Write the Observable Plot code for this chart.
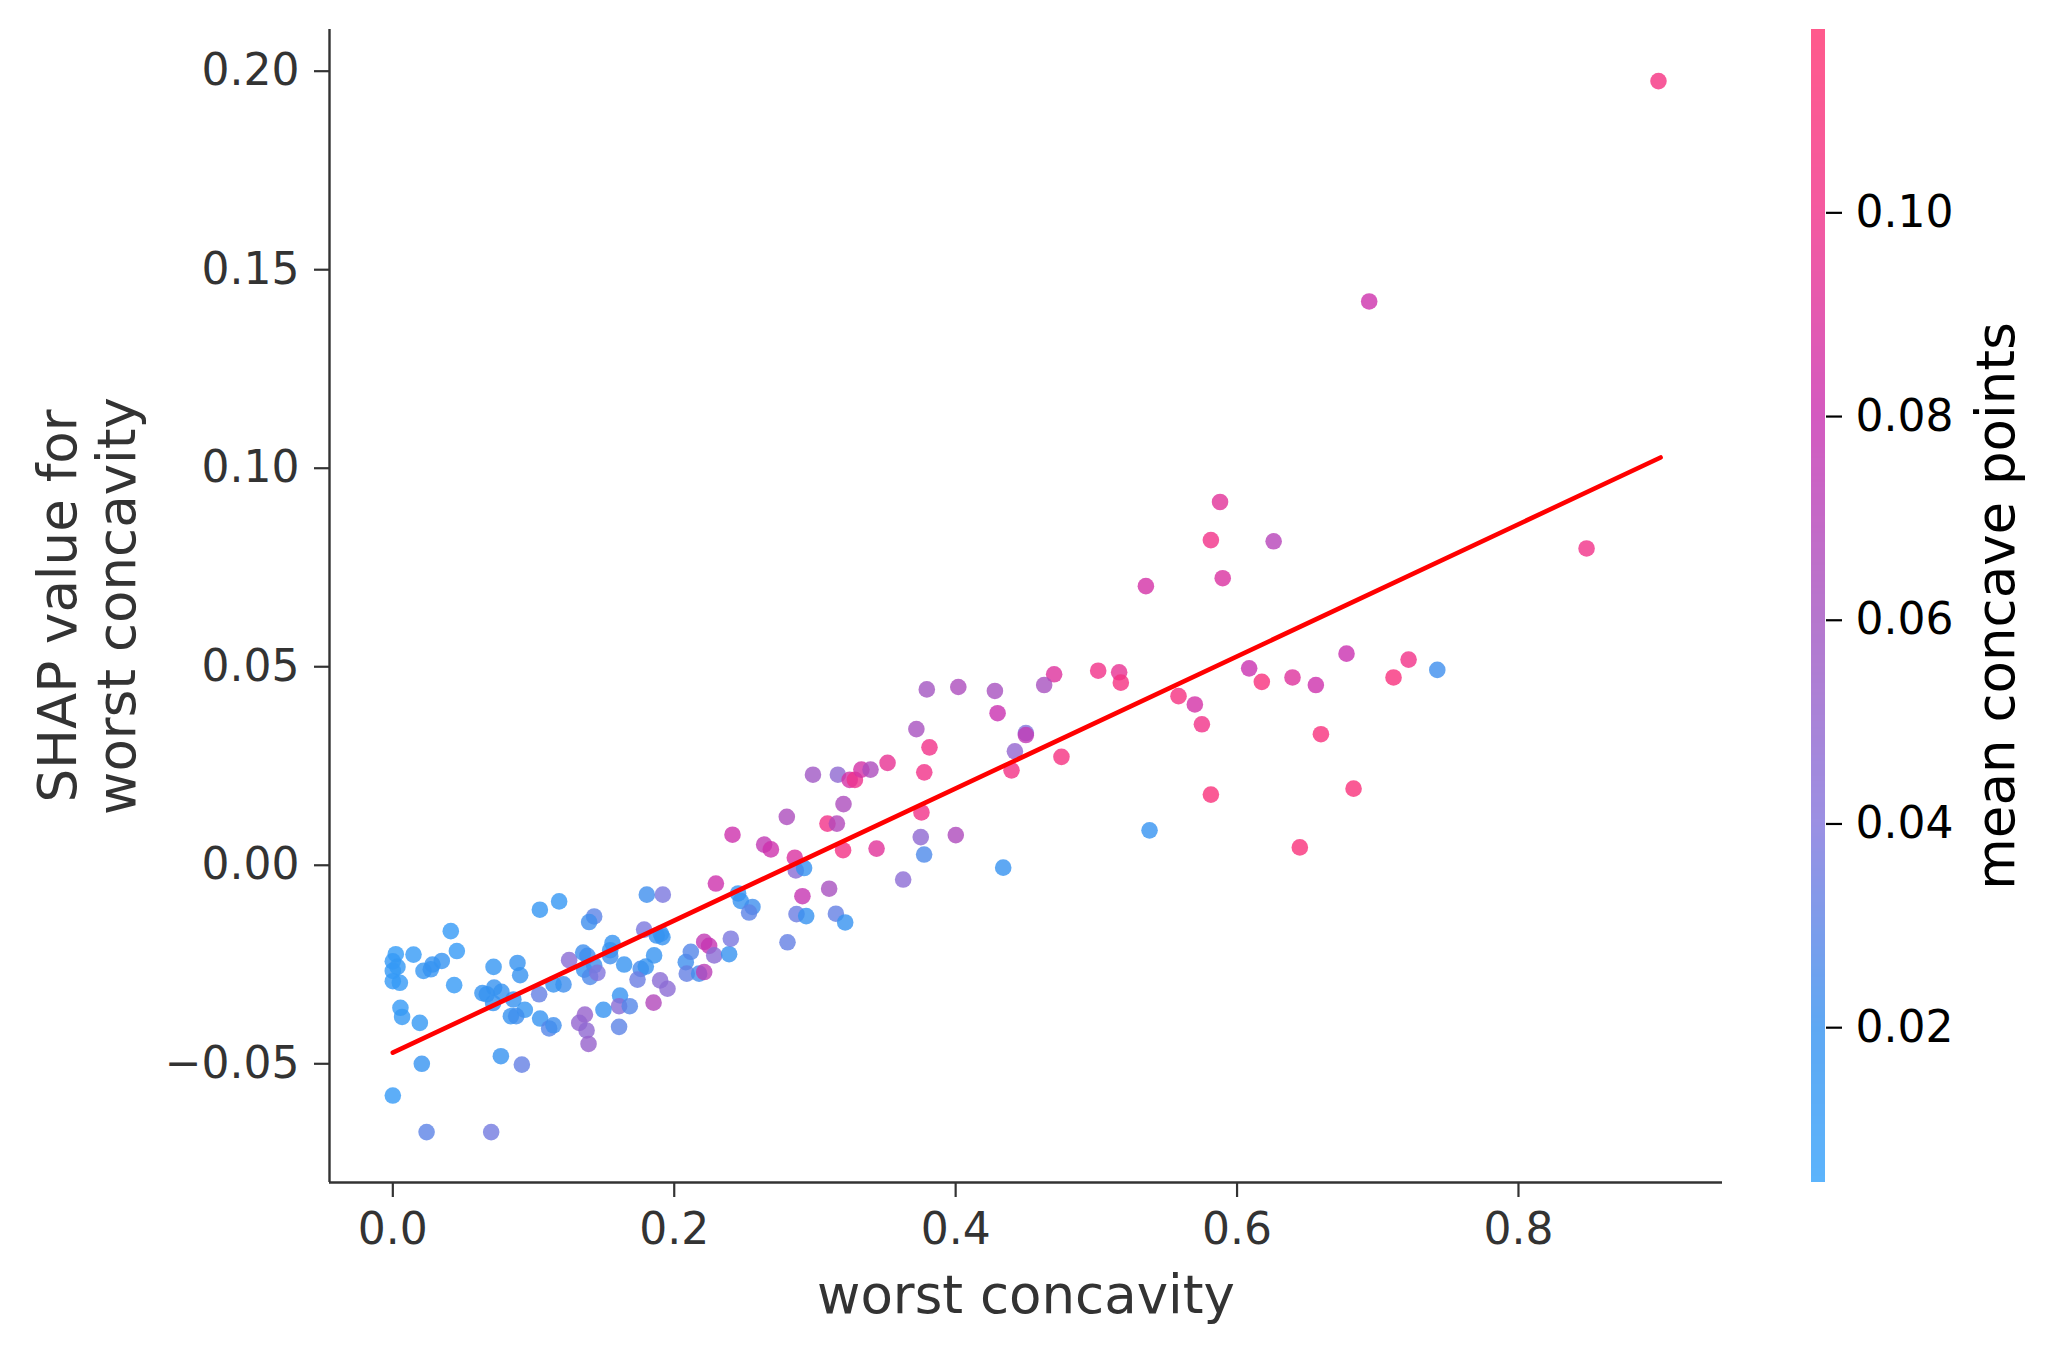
<!DOCTYPE html>
<html><head><meta charset="utf-8">
<script src="https://cdn.jsdelivr.net/npm/d3@7"></script>
<script src="https://cdn.jsdelivr.net/npm/@observablehq/plot@0.6"></script>
<style>
html,body{margin:0;padding:0;background:#fff;}
#wrap{position:relative;width:2055px;height:1357px;}
#wrap svg{position:absolute;left:0;top:0;}
</style></head><body><div id="wrap"></div>
<script>
// ---- data ----
const worstConcavity = [
0.2296,0.1805,0.1919,0.1182,0.1045,0.1431,0.1395,0.0412,0.0455,0.0021,
0.0147,0.0000,0.0033,0.0000,0.0000,0.0050,0.0218,0.0282,0.0270,0.0348,
0.0436,0.0716,0.0886,0.0905,0.0637,0.0720,0.0772,0.0713,0.0668,0.0857,
0.0938,0.0839,0.0877,0.1040,0.1047,0.1111,0.1142,0.1253,0.1353,0.1383,
0.1360,0.1431,0.1402,0.1454,0.1213,0.1142,0.1561,0.1545,0.1545,0.1644,
0.1786,0.1876,0.1916,0.1905,0.1857,0.1762,0.1798,0.1739,0.1615,0.1608,
0.1684,0.1497,0.1608,0.1365,0.1325,0.1377,0.1391,0.1853,0.1900,0.1952,
0.2082,0.2118,0.2089,0.2177,0.2213,0.2213,0.2248,0.2284,0.2390,0.2402,
0.0206,0.0768,0.0917,0.0000,0.0240,0.0699,0.0054,0.0066,0.0192,
0.2414,0.2639,0.2687,0.2800,0.2857,0.2864,0.2923,0.2911,0.2869,0.2938,
0.3089,0.3156,0.3203,0.3101,0.3149,0.3215,0.3200,0.3438,0.3757,0.3752,
0.3776,0.4001,0.3627,0.4338,0.2454,0.2473,0.2556,0.2532,0.2805,
0.2986,0.3163,0.3247,0.3284,0.3330,0.3395,0.3516,0.3721,0.3795,0.3814,
0.3777,0.4019,0.4279,0.4298,
0.5352,0.5898,0.4700,0.4629,0.5013,0.5162,0.5174,0.4499,0.4499,0.4421,
0.4397,0.4752,0.5584,0.5700,0.5750,0.6086,0.6176,0.6394,0.6560,0.6778,
0.7112,0.6596,0.6828,0.5814,0.6446,0.5378,
0.6939,0.8484,0.8995,0.5814,0.5879,0.6260,0.7423,0.7219
];
const shapValue = [
-0.0046,-0.0074,-0.0074,-0.0091,-0.0112,-0.0129,-0.0143,-0.0166,-0.0216,-0.0224,
-0.0225,-0.0242,-0.0256,-0.0266,-0.0292,-0.0296,-0.0266,-0.0250,-0.0262,-0.0241,
-0.0302,-0.0256,-0.0246,-0.0277,-0.0322,-0.0308,-0.0319,-0.0347,-0.0325,-0.0338,
-0.0364,-0.0380,-0.0380,-0.0325,-0.0386,-0.0411,-0.0403,-0.0239,-0.0220,-0.0228,
-0.0263,-0.0252,-0.0281,-0.0271,-0.0300,-0.0300,-0.0196,-0.0214,-0.0229,-0.0250,
-0.0162,-0.0177,-0.0181,-0.0172,-0.0227,-0.0261,-0.0255,-0.0288,-0.0328,-0.0355,
-0.0355,-0.0364,-0.0407,-0.0376,-0.0397,-0.0416,-0.0450,-0.0346,-0.0290,-0.0311,
-0.0244,-0.0218,-0.0273,-0.0273,-0.0269,-0.0193,-0.0203,-0.0227,-0.0224,-0.0185,
-0.0500,-0.0481,-0.0502,-0.0580,-0.0672,-0.0672,-0.0359,-0.0382,-0.0397,
0.0077,0.0052,0.0040,0.0122,0.0019,-0.0013,-0.0007,-0.0078,-0.0123,-0.0128,
0.0105,0.0105,0.0154,-0.0059,-0.0122,-0.0144,0.0038,0.0042,0.0133,0.0071,
0.0027,0.0076,-0.0036,-0.0006,-0.0071,-0.0090,-0.0105,-0.0119,-0.0194,
0.0228,0.0228,0.0215,0.0215,0.0241,0.0241,0.0258,0.0343,0.0443,0.0297,
0.0234,0.0449,0.0439,0.0383,
0.0703,0.0723,0.0481,0.0454,0.0490,0.0486,0.0460,0.0333,0.0328,0.0287,
0.0239,0.0273,0.0426,0.0405,0.0355,0.0496,0.0462,0.0473,0.0454,0.0533,
0.0473,0.0330,0.0193,0.0178,0.0045,0.0088,
0.1420,0.0798,0.1975,0.0819,0.0915,0.0816,0.0492,0.0518
];
const meanConcavePoints = [
0.082,0.022,0.038,0.015,0.016,0.030,0.022,0.012,0.012,0.010,
0.012,0.012,0.014,0.012,0.012,0.012,0.016,0.018,0.018,0.018,
0.012,0.016,0.020,0.020,0.018,0.020,0.020,0.020,0.020,0.020,
0.016,0.020,0.022,0.032,0.018,0.028,0.022,0.045,0.022,0.022,
0.020,0.022,0.026,0.040,0.022,0.020,0.018,0.020,0.022,0.018,
0.038,0.020,0.020,0.018,0.018,0.024,0.020,0.034,0.018,0.045,
0.028,0.018,0.030,0.052,0.050,0.048,0.052,0.068,0.045,0.046,
0.022,0.028,0.032,0.024,0.072,0.075,0.078,0.045,0.020,0.038,
0.018,0.020,0.032,0.012,0.030,0.036,0.012,0.014,0.014,
0.082,0.075,0.082,0.065,0.088,0.045,0.020,0.078,0.034,0.020,
0.100,0.068,0.065,0.062,0.032,0.020,0.102,0.092,0.100,0.048,
0.026,0.066,0.046,0.020,0.018,0.020,0.022,0.030,0.032,
0.058,0.048,0.085,0.098,0.085,0.065,0.095,0.062,0.060,0.100,
0.100,0.065,0.062,0.080,
0.085,0.088,0.090,0.062,0.100,0.095,0.105,0.040,0.075,0.050,
0.102,0.105,0.105,0.085,0.100,0.080,0.108,0.090,0.082,0.080,
0.108,0.108,0.110,0.110,0.110,0.018,
0.082,0.100,0.105,0.100,0.092,0.070,0.022,0.100
];
const fitX = [0.0, 0.901];
const fitY = [-0.0472, 0.1027];
const xTicks = [0, 0.2, 0.4, 0.6, 0.8];
const yTicks = [-0.05, 0, 0.05, 0.10, 0.15, 0.20];
const cbTicks = [0.02, 0.04, 0.06, 0.08, 0.10];
const colorDomain = [0.0048, 0.02, 0.04, 0.06, 0.08, 0.10, 0.118];
const colorRange = ["#33a1fb", "#3692f0", "#8274dc", "#a355c1", "#c931b0", "#f13188", "#ff316f"];
const xDomain = [-0.045, 0.945];
const yDomain = [-0.0799, 0.2105];
const xLabel = "worst concavity";
const yLabel = "SHAP value for\nworst concavity";
const cLabel = "mean concave points";

// ---- build ----
const W = 2055, H = 1357;
const points = worstConcavity.map((x, i) => ({x, y: shapValue[i], c: meanConcavePoints[i]}));
const fit = fitX.map((x, i) => ({x, y: fitY[i]}));
const colorScale = {type: "linear", domain: colorDomain, range: colorRange};
const font = "DejaVu Sans";

const main = Plot.plot({
  width: W, height: H,
  marginLeft: 329, marginRight: 333, marginTop: 29, marginBottom: 175,
  style: {fontFamily: font, background: "transparent", overflow: "visible"},
  x: {domain: xDomain},
  y: {domain: yDomain},
  color: colorScale,
  marks: [
    Plot.axisX({ticks: xTicks, tickFormat: ".1f", tickSize: 15, tickPadding: 15, fontSize: 44,
      stroke: "#333", fill: "#333", strokeWidth: 2.2, label: null}),
    Plot.axisY({ticks: yTicks, tickFormat: ".2f", tickSize: 15, tickPadding: 15, fontSize: 44,
      stroke: "#333", fill: "#333", strokeWidth: 2.2, label: null}),
    Plot.ruleX([xDomain[0]], {stroke: "#333", strokeWidth: 2.4}),
    Plot.ruleY([yDomain[0]], {stroke: "#333", strokeWidth: 2.4}),
    Plot.dot(points, {x: "x", y: "y", fill: "c", r: 8.3, fillOpacity: 0.8, stroke: "none"}),
    Plot.line(fit, {x: "x", y: "y", stroke: "red", strokeWidth: 4.6}),
    Plot.text([xLabel], {text: d => d, frameAnchor: "bottom", dy: 130, fontSize: 53, fill: "#333"}),
    Plot.text([yLabel], {text: d => d, frameAnchor: "left", textAnchor: "middle", dx: -243, rotate: -90,
      fontSize: 53, lineHeight: 1.11, fill: "#333"})
  ]
});

const cMin = colorDomain[0], cMax = colorDomain[colorDomain.length - 1];
const nSteps = 400, dv = (cMax - cMin) / nSteps;
const steps = d3.range(nSteps).map(i => cMin + i * dv);

const bar = Plot.plot({
  width: W, height: H,
  marginLeft: 1811, marginRight: 230, marginTop: 29, marginBottom: 175,
  style: {fontFamily: font, background: "transparent", overflow: "visible"},
  x: {domain: [0, 1], axis: null},
  y: {domain: [cMin, cMax], axis: null},
  color: colorScale,
  marks: [
    Plot.rect(steps, {x1: 0, x2: 1, y1: d => d, y2: d => d + dv, fill: d => d + dv / 2,
      fillOpacity: 0.8, shapeRendering: "crispEdges"}),
    Plot.axisY({anchor: "right", ticks: cbTicks, tickFormat: ".2f", tickSize: 16, tickPadding: 14,
      fontSize: 44, stroke: "black", fill: "black", strokeWidth: 2.2, label: null}),
    Plot.text([cLabel], {text: d => d, frameAnchor: "right", textAnchor: "middle", dx: 172, rotate: -90,
      fontSize: 53, fill: "black"})
  ]
});

const wrap = document.getElementById("wrap");
wrap.appendChild(main);
wrap.appendChild(bar);
</script></body></html>
